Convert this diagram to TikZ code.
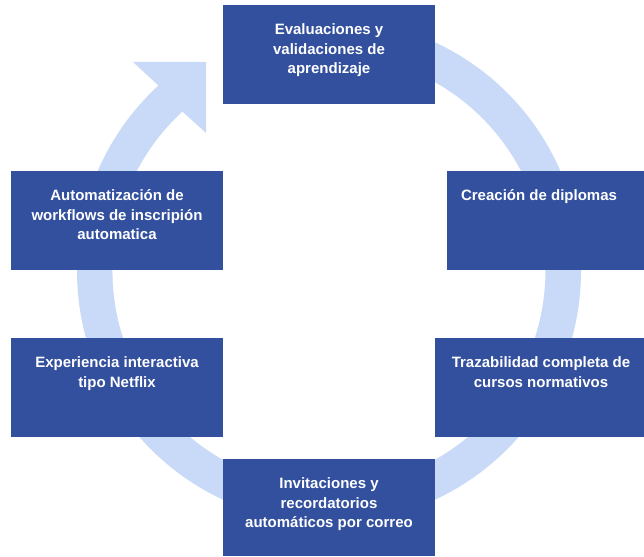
\documentclass[tikz,border=0pt]{standalone}
\usepackage{fontspec}
\setmainfont{Liberation Sans}
\definecolor{boxblue}{RGB}{51,80,158}
\definecolor{ringblue}{RGB}{201,218,248}
\begin{document}
\begin{tikzpicture}[x=1pt,y=-1pt,
  stepbox/.style={fill=boxblue, draw=none, inner sep=0pt, anchor=north west,
    minimum width=212pt, minimum height=99pt},
  steptext/.style={anchor=north, inner sep=0pt, align=center, text=white,
    font=\fontsize{15}{19.5}\selectfont\bfseries}]
\useasboundingbox (0,0) rectangle (644,556);
% ring arrow
\fill[ringblue] (329,19) arc[start angle=-90, end angle=227.4, radius=252]
  -- (133,62) -- (206,62) -- (206,133) -- (182.4,111.6)
  arc[start angle=227.4, end angle=-90, radius=216.5] -- cycle;
% boxes
\node[stepbox] (b1) at (223,5) {};
\node[stepbox] (b2) at (447,171) {};
\node[stepbox] (b3) at (435,338) {};
\node[stepbox, minimum height=97pt] (b4) at (223,459) {};
\node[stepbox] (b5) at (11,338) {};
\node[stepbox] (b6) at (11,171) {};
% texts
\node[steptext] (t1) at (329,20.5) {\rule{0pt}{14pt}Evaluaciones y\\validaciones de\\aprendizaje};
\node[steptext] (t2) at (539,186.5) {\rule{0pt}{14pt}Creación de diplomas};
\node[steptext] (t3) at (541,353.5) {\rule{0pt}{14pt}Trazabilidad completa de\\cursos normativos};
\node[steptext] (t4) at (329,474.5) {\rule{0pt}{14pt}Invitaciones y\\recordatorios\\automáticos por correo};
\node[steptext] (t5) at (117,353.5) {\rule{0pt}{14pt}Experiencia interactiva\\tipo Netflix};
\node[steptext] (t6) at (117,186.5) {\rule{0pt}{14pt}Automatización de\\workflows de inscripión\\automatica};
\end{tikzpicture}
\end{document}
